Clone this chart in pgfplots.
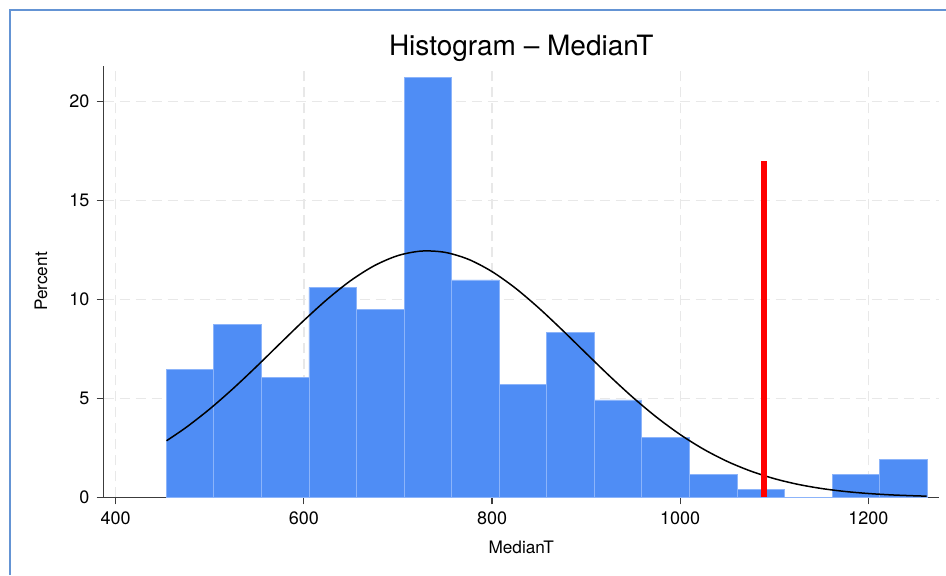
\documentclass[border=0pt]{standalone}
\usepackage{fontspec}
\setmainfont{TeX Gyre Heros}
\usepackage{pgfplots}
\pgfplotsset{compat=1.18}

\definecolor{barblue}{RGB}{79,141,245}
\definecolor{baredge}{RGB}{140,180,250}
\definecolor{framblue}{RGB}{100,148,212}
\definecolor{gridgray}{RGB}{232,232,232}
\definecolor{axgray}{RGB}{60,60,60}

\begin{document}
\begin{tikzpicture}
\path[use as bounding box] (0,0) rectangle (473pt,287.5pt);
% window frame
\draw[framblue, line width=1pt] (5pt,0) -- (5pt,282.5pt) -- (473pt,282.5pt);
\begin{axis}[
  at={(51.75pt,38.85pt)}, anchor=south west,
  scale only axis, width=417.7pt, height=215.8pt,
  xmin=387, xmax=1275, ymin=0, ymax=21.8,
  axis x line*=bottom, axis y line*=left,
  axis line style={axgray, line width=0.6pt},
  tick style={axgray, line width=0.6pt},
  major tick length=3.5pt,
  tick align=outside,
  xtick={400,600,800,1000,1200},
  ytick={0,5,10,15,20},
  grid=major,
  major grid style={gridgray, line width=0.7pt, dash pattern=on 5pt off 3pt},
  /pgf/number format/assume math mode=true,
  /pgf/number format/1000 sep={},
  tick label style={font=\fontsize{9}{10}\selectfont, black},
  title={Histogram -- MedianT},
  every axis title/.style={at={(axis description cs:0.5,1.0225)}, anchor=base, font=\fontsize{14}{16}\selectfont},
  xlabel={MedianT},
  xlabel style={at={(axis description cs:0.5,-0.1297)}, anchor=base, font=\fontsize{8.6}{10}\selectfont},
  ylabel={Percent},
  ylabel style={at={(axis description cs:-0.0676,0.5)}, anchor=base, font=\fontsize{8.6}{10}\selectfont},
  clip=false,
]
% histogram bars (percent per bin)
\addplot[ybar interval, fill=barblue, draw=baredge, line width=0.4pt] coordinates {
  (453.80,6.44) (504.34,8.71) (554.88,6.06) (605.42,10.61)
  (655.96,9.47) (706.50,21.21) (757.04,10.98) (807.58,5.68)
  (858.12,8.33) (908.66,4.92) (959.20,3.03) (1009.74,1.14)
  (1060.28,0.38) (1110.82,0) (1161.36,1.14) (1211.90,1.89)
  (1262.44,0)
};
% normal density overlay
\addplot[black, line width=0.75pt, smooth, mark=none] coordinates {
  (454,2.856) (475,3.537) (500,4.465) (525,5.503) (550,6.623)
  (575,7.784) (600,8.933) (625,10.010) (650,10.954) (675,11.703)
  (700,12.210) (725,12.438) (750,12.373) (775,12.019) (800,11.400)
  (825,10.559) (850,9.549) (875,8.433) (900,7.272) (925,6.123)
  (950,5.034) (975,4.042) (1000,3.169) (1025,2.426) (1050,1.813)
  (1075,1.324) (1100,0.943) (1125,0.656) (1150,0.446) (1175,0.296)
  (1200,0.192) (1225,0.121) (1250,0.075) (1262,0.059)
};
% reference line
\addplot[red, line width=2.75pt, mark=none] coordinates {(1089,0) (1089,17)};
\end{axis}
\end{tikzpicture}
\end{document}
